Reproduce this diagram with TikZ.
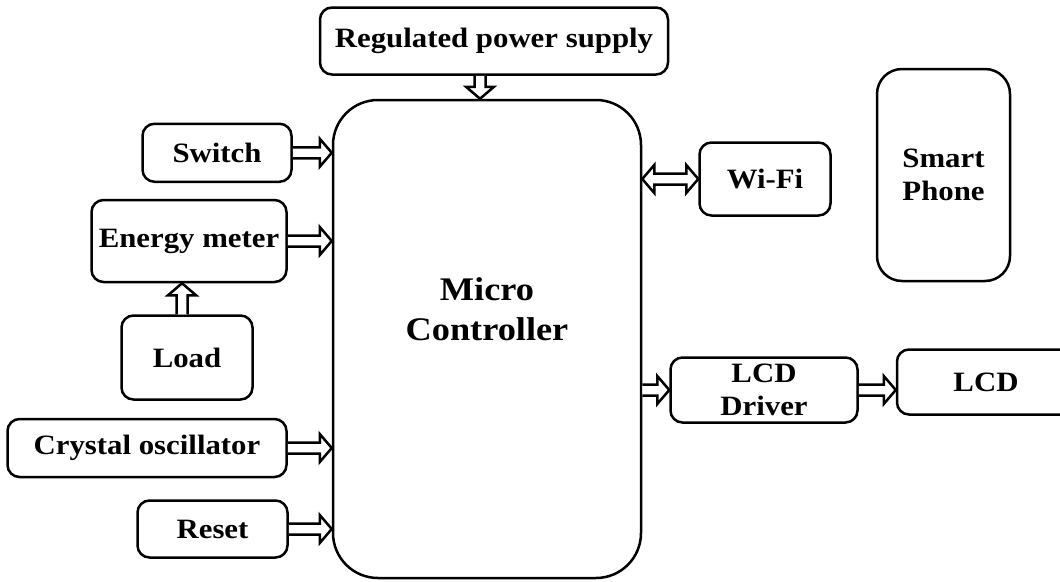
\documentclass[tikz,border=0pt]{standalone}
\usepackage{fontspec}
\setmainfont{Liberation Serif}[FakeStretch=1.1]
\usetikzlibrary{arrows.meta,positioning,calc}
\newcommand{\labelfont}{\fontsize{28}{33}\selectfont\bfseries}
\newcommand{\mcufont}{\fontsize{33}{40}\selectfont\bfseries}

\begin{document}
\begin{tikzpicture}[
    x=1pt, y=1pt,
    node distance=30pt,
    block/.style={draw, line width=2.5pt, rounded corners=12pt, align=center,
                  font=\labelfont, inner sep=0pt},
    mcubox/.style={draw, line width=2.5pt, rounded corners=45pt,
                   minimum width=308pt, minimum height=478pt},
    arrow/.style={draw, line width=2.5pt, line join=miter, fill=white,
      to path={let \p1=(\tikztostart), \p2=(\tikztotarget),
        \n1={atan2(\y2-\y1,\x2-\x1)}, \n2={veclen(\x2-\x1,\y2-\y1)} in
        [shift={(\p1)}, rotate=\n1] (0,5.5) -- (\n2-12,5.5) -- (\n2-12,14) -- (\n2,0)
        -- (\n2-12,-14) -- (\n2-12,-5.5) -- (0,-5.5)}},
    twoway/.style={draw, line width=2.5pt, line join=miter, fill=white,
      to path={let \p1=(\tikztostart), \p2=(\tikztotarget),
        \n1={atan2(\y2-\y1,\x2-\x1)}, \n2={veclen(\x2-\x1,\y2-\y1)} in
        [shift={(\p1)}, rotate=\n1] (12,5.5) -- (\n2-12,5.5) -- (\n2-12,14) -- (\n2,0)
        -- (\n2-12,-14) -- (\n2-12,-5.5) -- (12,-5.5) -- (12,-14) -- (0,0)
        -- (12,14) -- cycle}}
]
\useasboundingbox (0,0) rectangle (1060,-581);
\node[mcubox] (mcu) at (487,-339) {};
\node[font=\mcufont, align=center] (mcutext) at ([yshift=30pt]mcu.center) {Micro\\Controller};
\node[block, minimum width=348pt, minimum height=67pt, above=23pt of mcu, xshift=7pt] (psu) {Regulated power supply};
\node[block, minimum width=149pt, minimum height=58pt, left=39pt of mcu.north west, yshift=-54pt] (switch) {Switch};
\node[block, minimum width=195pt, minimum height=82pt, left=44pt of mcu.west, yshift=98pt] (energy) {Energy meter};
\node[block, minimum width=131pt, minimum height=84pt, below=31pt of energy, xshift=-2pt] (load) {Load};
\node[block, minimum width=279pt, minimum height=58pt, left=44pt of mcu.west, yshift=-109pt] (crystal) {Crystal oscillator};
\node[block, minimum width=150pt, minimum height=57pt, left=43pt of mcu.west, yshift=-190pt] (reset) {Reset};
\node[block, minimum width=131pt, minimum height=73pt, right=56pt of mcu.east, yshift=160pt] (wifi) {Wi-Fi};
\node[block, minimum width=133pt, minimum height=212pt, rounded corners=25pt, right=44pt of wifi, yshift=4pt] (phone) {Smart\\Phone};
\node[block, minimum width=187pt, minimum height=65pt, right=27pt of mcu.east, yshift=-51pt] (driver) {LCD\\Driver};
\node[block, minimum width=178pt, minimum height=65pt, right=37pt of driver, yshift=8pt] (lcd) {LCD};
% inputs
\path[arrow] ([xshift=-14pt]psu.south) to ([xshift=-14pt]psu.south |- mcu.north);
\path[arrow] (switch.east) to (switch.east -| mcu.west);
\path[arrow] (energy.east) to (energy.east -| mcu.west);
\path[arrow] ([xshift=-5pt]load.north) to ([xshift=-5pt]load.north |- energy.south);
\path[arrow] (crystal.east) to (crystal.east -| mcu.west);
\path[arrow] (reset.east) to (reset.east -| mcu.west);
% outputs
\path[twoway] (mcu.east |- wifi.west) to (wifi.west);
\path[arrow] (mcu.east |- driver.west) to (driver.west);
\path[arrow] (driver.east) to (driver.east -| lcd.west);
\end{tikzpicture}
\end{document}
